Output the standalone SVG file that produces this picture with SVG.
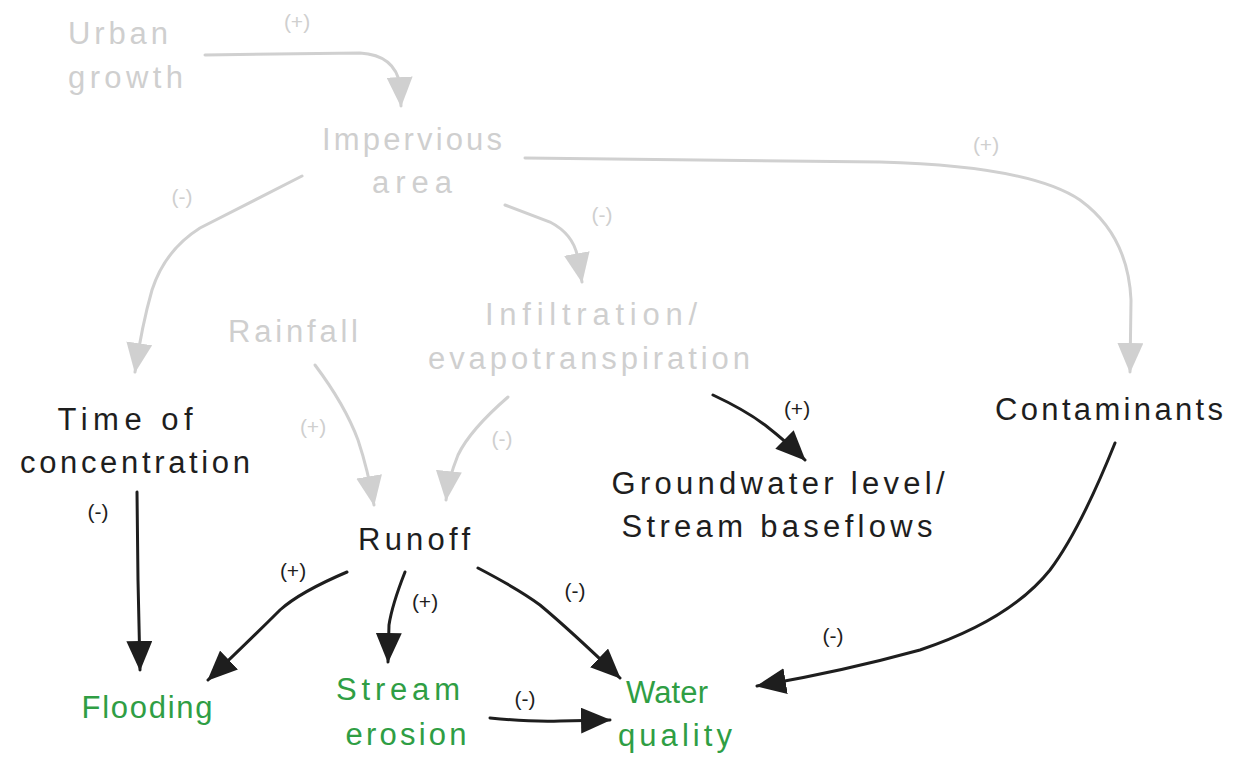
<svg xmlns="http://www.w3.org/2000/svg" width="1236" height="768" viewBox="0 0 1236 768">
<style>
text{font-family:"Liberation Sans",Arial,sans-serif}
.n{font-size:31px}
.l{font-size:21px}
.g{fill:#cfcfcf}
.k{fill:#1e1e1e}
.gr{fill:#2f9e44}
.cg{fill:none;stroke:#d0d0d0;stroke-width:3;stroke-linecap:round}
.ck{fill:none;stroke:#1e1e1e;stroke-width:3;stroke-linecap:round}
</style>
<defs>
<marker id="ag" markerUnits="userSpaceOnUse" viewBox="0 0 30 26" markerWidth="30" markerHeight="26" refX="29" refY="13" orient="auto"><path d="M0,0 L30,13 L0,26 z" fill="#d0d0d0"/></marker>
<marker id="ak" markerUnits="userSpaceOnUse" viewBox="0 0 30 26" markerWidth="30" markerHeight="26" refX="29" refY="13" orient="auto"><path d="M0,0 L30,13 L0,26 z" fill="#1e1e1e"/></marker>
</defs>
<rect width="1236" height="768" fill="#ffffff"/>
<g id="connectors">
<path class="cg" marker-end="url(#ag)" d="M205,55 L360,53 Q395,55 400,85 L401,106"/>
<path class="cg" marker-end="url(#ag)" d="M525,158 L880,162 Q1030,166 1080,200 Q1128,235 1131,300 L1130,372"/>
<path class="cg" marker-end="url(#ag)" d="M302,176 L200,228 Q165,250 152,290 Q142,325 135,372"/>
<path class="cg" marker-end="url(#ag)" d="M505,205 L550,222 Q575,235 578,260 L582,282"/>
<path class="cg" marker-end="url(#ag)" d="M315,365 Q345,405 358,440 Q368,470 374,505"/>
<path class="cg" marker-end="url(#ag)" d="M508,397 Q470,430 458,455 Q448,480 446,500"/>
<path class="ck" marker-end="url(#ak)" d="M713,395 Q745,410 765,425 Q788,443 805,460"/>
<path class="ck" marker-end="url(#ak)" d="M137,492 L138,580 L140,670"/>
<path class="ck" marker-end="url(#ak)" d="M347,572 Q300,592 280,610 Q250,640 208,680"/>
<path class="ck" marker-end="url(#ak)" d="M405,572 Q392,605 389,625 L388,662"/>
<path class="ck" marker-end="url(#ak)" d="M478,568 Q520,590 540,605 Q570,630 620,678"/>
<path class="ck" marker-end="url(#ak)" d="M1115,443 Q1080,530 1050,570 Q1010,620 920,650 Q840,672 757,686"/>
<path class="ck" marker-end="url(#ak)" d="M490,718 Q530,722 560,721 L610,720"/>
</g>
<g id="labels">
<text class="l g" x="297" y="29" text-anchor="middle">(+)</text>
<text class="l g" x="986" y="152" text-anchor="middle">(+)</text>
<text class="l g" x="182" y="204" text-anchor="middle">(-)</text>
<text class="l g" x="602" y="222" text-anchor="middle">(-)</text>
<text class="l g" x="313" y="434" text-anchor="middle">(+)</text>
<text class="l g" x="502" y="446" text-anchor="middle">(-)</text>
<text class="l k" x="98" y="519" text-anchor="middle">(-)</text>
<text class="l k" x="293" y="578" text-anchor="middle">(+)</text>
<text class="l k" x="425" y="609" text-anchor="middle">(+)</text>
<text class="l k" x="575" y="598" text-anchor="middle">(-)</text>
<text class="l k" x="797" y="416" text-anchor="middle">(+)</text>
<text class="l k" x="833" y="643" text-anchor="middle">(-)</text>
<text class="l k" x="525" y="706" text-anchor="middle">(-)</text>
</g>
<g id="urban-growth"><text class="n g" x="68" y="44" textLength="100" lengthAdjust="spacing">Urban</text><text class="n g" x="68" y="88" textLength="115" lengthAdjust="spacing">growth</text></g>
<g id="impervious-area"><text class="n g" x="412" y="150" text-anchor="middle" textLength="180" lengthAdjust="spacing">Impervious</text><text class="n g" x="412" y="193" text-anchor="middle" textLength="80" lengthAdjust="spacing">area</text></g>
<g id="infiltration"><text class="n g" x="591" y="325" text-anchor="middle" textLength="212" lengthAdjust="spacing">Infiltration/</text><text class="n g" x="589" y="369" text-anchor="middle" textLength="322" lengthAdjust="spacing">evapotranspiration</text></g>
<g id="rainfall"><text class="n g" x="293" y="342" text-anchor="middle" textLength="130" lengthAdjust="spacing">Rainfall</text></g>
<g id="time-of-concentration"><text class="n k" x="125" y="430" text-anchor="middle" textLength="135" lengthAdjust="spacing">Time of</text><text class="n k" x="135" y="473" text-anchor="middle" textLength="230" lengthAdjust="spacing">concentration</text></g>
<g id="contaminants"><text class="n k" x="1109" y="420" text-anchor="middle" textLength="228" lengthAdjust="spacing">Contaminants</text></g>
<g id="groundwater"><text class="n k" x="778" y="494" text-anchor="middle" textLength="333" lengthAdjust="spacing">Groundwater level/</text><text class="n k" x="777" y="537" text-anchor="middle" textLength="311" lengthAdjust="spacing">Stream baseflows</text></g>
<g id="runoff"><text class="n k" x="414" y="550" text-anchor="middle" textLength="112" lengthAdjust="spacing">Runoff</text></g>
<g id="flooding"><text class="n gr" x="147" y="718" text-anchor="middle" textLength="131" lengthAdjust="spacing">Flooding</text></g>
<g id="stream-erosion"><text class="n gr" x="398" y="700" text-anchor="middle" textLength="124" lengthAdjust="spacing">Stream</text><text class="n gr" x="406" y="745" text-anchor="middle" textLength="121" lengthAdjust="spacing">erosion</text></g>
<g id="water-quality"><text class="n gr" x="667" y="703" text-anchor="middle" textLength="82" lengthAdjust="spacing">Water</text><text class="n gr" x="675" y="746" text-anchor="middle" textLength="114" lengthAdjust="spacing">quality</text></g>
</svg>
